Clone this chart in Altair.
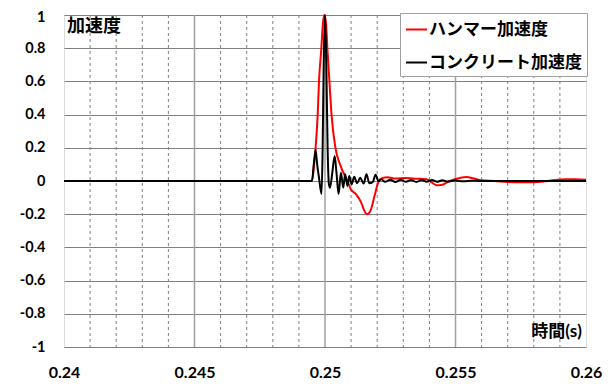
import altair as alt
import pandas as pd

# ---- data ----
series_names = ["ハンマー加速度", "コンクリート加速度"]
series_colors = ["#ff0000", "#000000"]

hammer_t = [0.2400, 0.2495, 0.24957, 0.24964, 0.24972, 0.24977, 0.24986, 0.24992, 0.24998,
            0.25004, 0.25009, 0.25017, 0.25025, 0.2504, 0.2506, 0.25086, 0.25099, 0.25119,
            0.25138, 0.25151, 0.2516, 0.25168, 0.25177, 0.2519, 0.25205, 0.2522, 0.2524,
            0.2527, 0.2531, 0.2535, 0.2539, 0.2541, 0.25428, 0.2545, 0.2547, 0.2550,
            0.25543, 0.2557, 0.2560, 0.2565, 0.2570, 0.2575, 0.2580, 0.2584, 0.2588,
            0.2592, 0.2596, 0.2600]
hammer_v = [0.0, 0.0, 0.08, 0.2, 0.4, 0.6, 0.8, 0.95, 1.0,
            0.95, 0.8, 0.6, 0.4, 0.2, 0.09, 0.0, -0.05, -0.08,
            -0.127, -0.18, -0.2, -0.195, -0.167, -0.088, -0.005, 0.018, 0.022,
            0.015, 0.018, 0.014, 0.01, -0.01, -0.026, -0.022, -0.005, 0.012,
            0.024, 0.015, 0.004, 0.0, -0.006, -0.008, -0.007, -0.002, 0.006,
            0.01, 0.01, 0.008]

concrete_t = [0.2400, 0.2495, 0.24957, 0.24964, 0.2497, 0.24977, 0.24987, 0.24991, 0.24995,
              0.2500, 0.25005, 0.2501, 0.25015, 0.25019, 0.25028, 0.25037, 0.25044, 0.25052,
              0.25061, 0.2507, 0.25077, 0.25086, 0.25093, 0.25102, 0.25112, 0.25123, 0.25135,
              0.25148, 0.25159, 0.2517, 0.25183, 0.25194, 0.25205, 0.25215, 0.2523, 0.2525,
              0.2527, 0.2529, 0.2531, 0.2533, 0.2535, 0.2537, 0.2539, 0.2541, 0.2543,
              0.2545, 0.2547, 0.2550, 0.2553, 0.2556, 0.2560, 0.2600]
concrete_v = [0.0, 0.0, 0.1, 0.186, 0.1, 0.02, -0.078, 0.2, 0.7,
              1.0, 0.7, 0.2, -0.02, -0.04, 0.05, 0.15, 0.05, -0.078,
              0.05, -0.04, 0.04, -0.03, 0.03, -0.02, 0.025, -0.014, 0.02,
              -0.015, 0.04, -0.014, -0.006, 0.038, 0.0, 0.01, -0.005, 0.008,
              -0.006, 0.007, -0.005, 0.006, -0.006, 0.006, -0.004, 0.006, -0.005,
              0.005, -0.003, 0.003, -0.002, 0.002, 0.0, 0.0]

x_labels = [0.240, 0.245, 0.250, 0.255, 0.260]
x_minor = [0.241, 0.242, 0.243, 0.244, 0.246, 0.247, 0.248, 0.249,
           0.251, 0.252, 0.253, 0.254, 0.256, 0.257, 0.258, 0.259]
x_major = [0.245, 0.250, 0.255]
y_ticks = [-1, -0.8, -0.6, -0.4, -0.2, 0, 0.2, 0.4, 0.6, 0.8, 1]

y_label_text = ["加速度"]
x_label_text = ["時間(s)"]

NUM_FONT = "Lato, 'Noto Sans CJK JP', sans-serif"
CJK_FONT = "'Noto Sans CJK JP', sans-serif"

df_h = pd.DataFrame({"t": hammer_t, "v": hammer_v, "series": series_names[0]})
df_c = pd.DataFrame({"t": concrete_t, "v": concrete_v, "series": series_names[1]})

x_scale = alt.Scale(domain=[0.24, 0.26], nice=False, zero=False)
x_axis = alt.Axis(
    values=x_labels, title=None, grid=False, domain=False, ticks=False,
    labelFont=NUM_FONT, labelFontSize=16, labelFontWeight="bold", labelColor="black",
    labelPadding=17, labelFlush=False, labelOverlap=False, format=".3~f",
)
x_enc = alt.X("t:Q", scale=x_scale, axis=x_axis)
y_enc = alt.Y(
    "v:Q",
    scale=alt.Scale(domain=[-1, 1], nice=False),
    axis=alt.Axis(
        values=y_ticks, title=None, grid=True, gridColor="#808080", gridWidth=1,
        domain=False, ticks=False, labelFont=NUM_FONT, labelFontSize=14.5,
        labelFontWeight="bold", labelColor="black", labelPadding=19,
        labelOverlap=False, format="~g",
        labelOffset={"condition": {"test": "datum.value >= 1", "value": 2}, "value": 0},
        labelExpr="replace(datum.label, '\u2212', '-')",
    ),
)

color_enc = alt.Color(
    "series:N",
    scale=alt.Scale(domain=series_names, range=series_colors),
    legend=alt.Legend(
        orient="none", legendX=336, legendY=-2, title=None, symbolType="stroke",
        symbolSize=441, symbolStrokeWidth=2, labelFont=CJK_FONT, labelFontSize=17,
        labelFontWeight="bold", labelColor="black", labelLimit=400, labelOffset=1,
        fillColor="white", strokeColor="#a0a0a0", padding=5, rowPadding=13,
    ),
)

minor = alt.Chart(pd.DataFrame({"t": x_minor})).mark_rule(
    color="#808080", strokeWidth=1, strokeDash=[3, 3]
).encode(x=x_enc)

major = alt.Chart(pd.DataFrame({"t": x_major})).mark_rule(
    color="#a0a0a0", strokeWidth=1.5
).encode(x=x_enc)

line_h = alt.Chart(df_h).mark_line(strokeWidth=2, interpolate="monotone").encode(
    x=x_enc, y=y_enc, color=color_enc
)
line_c = alt.Chart(df_c).mark_line(strokeWidth=2, interpolate="monotone").encode(
    x=x_enc, y=y_enc, color=color_enc
)

ylab = alt.Chart(pd.DataFrame({"txt": y_label_text})).mark_text(
    font=CJK_FONT, fontSize=18, fontWeight="bold", align="left", baseline="middle",
    color="black"
).encode(text="txt:N", x=alt.value(3), y=alt.value(12))

xlab = alt.Chart(pd.DataFrame({"txt": x_label_text})).mark_text(
    font=NUM_FONT, fontSize=17, fontWeight="bold", align="right", baseline="middle",
    color="black"
).encode(text="txt:N", x=alt.value(518), y=alt.value(317))

chart = alt.layer(minor, major, line_h, line_c, ylab, xlab).properties(
    width=522, height=332,
    autosize=alt.AutoSizeParams(type="none"),
    padding={"left": 56, "top": 7, "right": 22, "bottom": 32},
).configure_view(stroke="black", strokeWidth=1).configure(background="white")

chart.save("out.html", embed_options={"renderer": "svg", "actions": False})
